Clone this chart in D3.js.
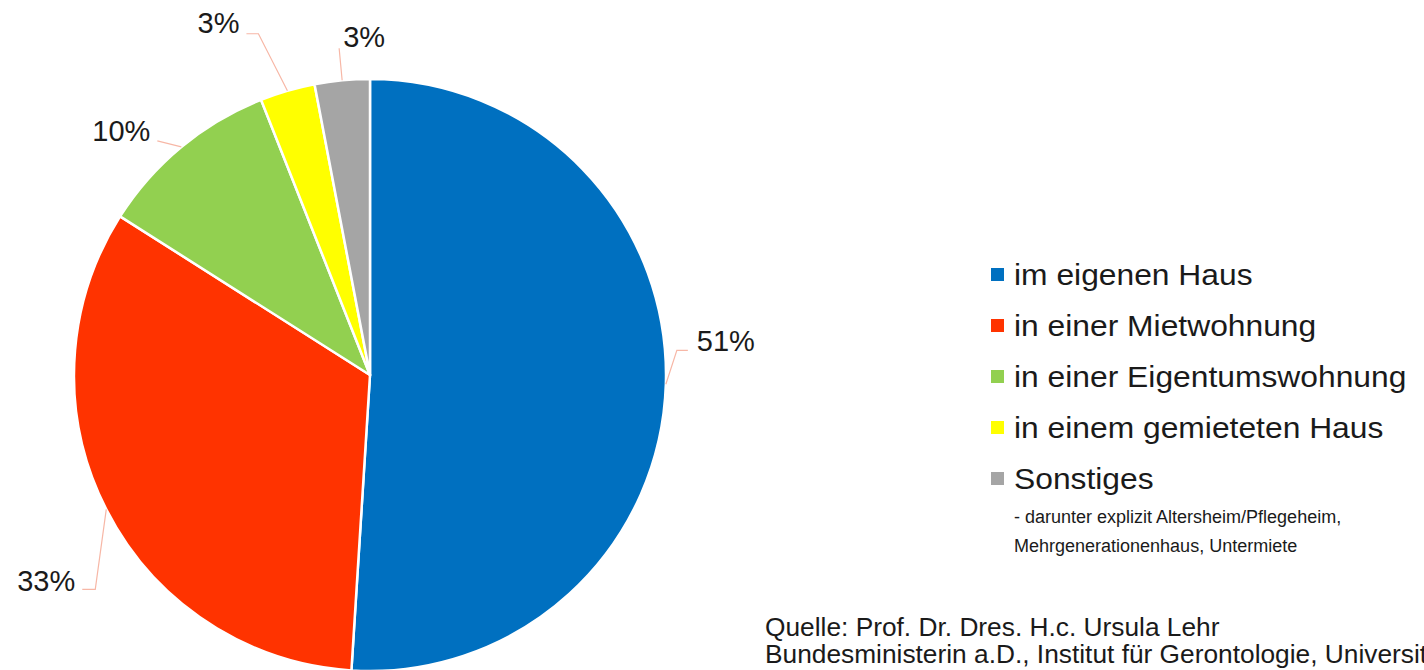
<!DOCTYPE html>
<html>
<head>
<meta charset="utf-8">
<script src="https://cdn.jsdelivr.net/npm/d3@7/dist/d3.min.js"></script>
<style>
  html, body { margin: 0; padding: 0; background: #fff; overflow: hidden; }
  svg { display: block; }
  text { font-family: "Liberation Sans", Arial, sans-serif; fill: #1a1a1a; }
</style>
</head>
<body>
<svg id="chart" width="1424" height="670"></svg>
<script>
// ---- data ----
const categories = ["im eigenen Haus", "in einer Mietwohnung", "in einer Eigentumswohnung", "in einem gemieteten Haus", "Sonstiges"];
const values = [51, 33, 10, 3, 3];
const valueLabels = ["51%", "33%", "10%", "3%", "3%"];
const colors = ["#0070c0", "#ff3300", "#92d050", "#ffff00", "#a5a5a5"];
const noteLines = ["- darunter explizit Altersheim/Pflegeheim,", "Mehrgenerationenhaus, Untermiete"];
const sourceLines = ["Quelle: Prof. Dr. Dres. H.c. Ursula Lehr", "Bundesministerin a.D., Institut für Gerontologie, Universität Heidelberg"];

// ---- layout (label leader geometry, relative to slice edge point) ----
// [elbow dx, elbow dy, horizontal tail, text dx, text dy, anchor]
const labelLayout = [
  [11, -34, 11, 9, 1, "start"],
  [-11, 80, -13, -7, 2, "end"],
  [-24, -6, 0, -7, 0, "end"],
  [-29, -57, -12, -7, -1, "end"],
  [-3, -32, 0, 4, -1, "start"]
];

const svg = d3.select("#chart");
const cx = 370, cy = 375, R = 296;

const pie = d3.pie().sort(null).value(d => d);
const arcs = pie(values);
const arc = d3.arc().innerRadius(0).outerRadius(R);

const g = svg.append("g").attr("transform", `translate(${cx},${cy})`);
g.selectAll("path.slice")
  .data(arcs)
  .join("path")
  .attr("class", "slice")
  .attr("d", arc)
  .attr("fill", (d, i) => colors[i])
  .attr("stroke", "#fff")
  .attr("stroke-width", 2.5)
  .attr("stroke-linejoin", "round");

// labels with leader lines
arcs.forEach((d, i) => {
  const mid = (d.startAngle + d.endAngle) / 2;
  const ex = R * Math.sin(mid), ey = -R * Math.cos(mid);
  const [ldx, ldy, tail, tdx, tdy, anchor] = labelLayout[i];
  const bx = ex + ldx, by = ey + ldy;
  const tx = bx + tail;
  const pts = [[ex, ey], [bx, by]];
  if (tail !== 0) pts.push([tx, by]);
  g.append("path")
    .attr("d", d3.line()(pts))
    .attr("fill", "none")
    .attr("stroke", "#f7b7a6")
    .attr("stroke-width", 1.2);
  g.append("text")
    .attr("x", tx + tdx)
    .attr("y", by + tdy)
    .attr("text-anchor", anchor)
    .attr("font-size", 29)
    .text(valueLabels[i]);
});

// legend
const legend = svg.append("g").attr("transform", "translate(991,268)");
const rowH = 51;
categories.forEach((c, i) => {
  const row = legend.append("g").attr("transform", `translate(0,${i * rowH})`);
  row.append("rect").attr("width", 13).attr("height", 13).attr("fill", colors[i]);
  row.append("text")
    .attr("transform", "translate(23,17) scale(1.06,1)")
    .attr("font-size", 30)
    .text(c);
});
const note = legend.append("g").attr("transform", `translate(23,${4 * rowH + 51})`);
noteLines.forEach((t, i) => {
  note.append("text")
    .attr("y", i * 29)
    .attr("font-size", 18)
    .text(t);
});

// source (second line runs past the right edge, as in the original)
const src = svg.append("g").attr("transform", "translate(765,636)");
sourceLines.forEach((t, i) => {
  src.append("text")
    .attr("y", i * 27)
    .attr("font-size", 26.3)
    .text(t);
});
</script>
</body>
</html>
